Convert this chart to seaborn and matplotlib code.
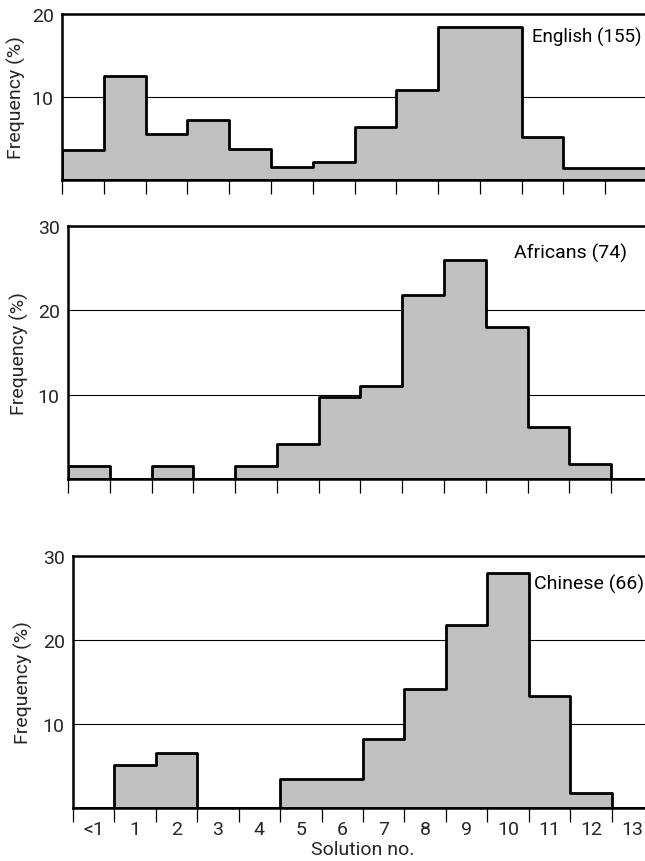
import numpy as np
import pandas as pd
import matplotlib
matplotlib.use("Agg")
import matplotlib.pyplot as plt
import seaborn as sns

# ---- data ----
categories = ["<1", "1", "2", "3", "4", "5", "6", "7", "8", "9", "10", "11", "12", "13"]
english = [3.6, 12.5, 5.6, 7.2, 3.7, 1.6, 2.2, 6.4, 10.8, 18.4, 18.4, 5.2, 1.5, 1.5]
africans = [1.5, 0, 1.6, 0, 1.5, 4.2, 9.7, 11.0, 21.8, 26.0, 18.0, 6.2, 1.8, 0]
chinese = [0, 5.1, 6.6, 0, 0, 3.4, 3.5, 8.2, 14.2, 21.8, 28.0, 13.3, 1.8, 0]

panel_labels = ["English (155)", "Africans (74)", "Chinese (66)"]
y_maxes = [20, 30, 30]
y_ticks = [[10, 20], [10, 20, 30], [10, 20, 30]]
x_title = "Solution no."
y_title = "Frequency (%)"

sns.set_theme(style="white")
plt.rcParams["font.family"] = ["Liberation Sans Narrow", "Roboto", "DejaVu Sans"]

W, H = 645, 862
fig = plt.figure(figsize=(W / 100, H / 100), dpi=100)
fig.patch.set_facecolor("white")

# axes placement in pixels: left, right, top (y max), bottom (y = 0)
boxes = [(62, 647, 15, 181), (68, 653, 227, 480), (73, 653, 557, 809)]
label_right_px = [641, 627, 644]
label_y = [17.3, 26.9, 26.7]
label_sizes = [13.5, 14, 14]
ylabel_x = [16, 19, 23]
series = [english, africans, chinese]

n = len(categories)
edges = np.arange(n + 1)
centers = np.arange(n) + 0.5
fill_color = "#c0c0c0"

for i, (vals, box) in enumerate(zip(series, boxes)):
    l, r, t, b = box
    ax = fig.add_axes([l / W, 1 - b / H, (r - l) / W, (b - t) / H])
    df = pd.DataFrame({"pos": centers, "freq": vals, "cat": categories})
    sns.histplot(data=df, x="pos", weights="freq", binwidth=1, binrange=(0, n),
                 element="step", fill=True, color=fill_color, edgecolor="black",
                 linewidth=2.0, alpha=1, ax=ax, zorder=2)
    ax.set_xlim(0, n)
    ax.set_ylim(0, y_maxes[i])
    ax.set_axisbelow(True)
    ax.yaxis.grid(True, color="black", linewidth=0.8)
    ax.xaxis.grid(False)
    ax.set_yticks(y_ticks[i])
    ax.set_yticklabels([str(v) for v in y_ticks[i]], fontsize=14)
    ax.tick_params(axis="y", length=0, pad=6)
    ax.set_xticks(edges[:-1])
    ax.tick_params(axis="x", which="major", direction="out", length=10, width=0.9,
                   color="black", labelbottom=False, bottom=True)
    for side in ["top", "left", "bottom"]:
        ax.spines[side].set_visible(True)
        ax.spines[side].set_color("black")
        ax.spines[side].set_linewidth(1.8)
    ax.spines["right"].set_visible(False)
    ax.set_ylabel(y_title, fontsize=14, va="center")
    ax.yaxis.set_label_coords((ylabel_x[i] - l) / (r - l), 0.5)
    x_data = (label_right_px[i] - l) / (r - l) * n
    ax.text(x_data, label_y[i], panel_labels[i], fontsize=label_sizes[i],
            ha="right", va="center", color="black")
    if i == 2:
        ax.set_xticks(centers, minor=True)
        ax.set_xticklabels(categories, minor=True, fontsize=14)
        ax.tick_params(axis="x", which="minor", length=0, pad=9, labelbottom=True)
        ax.set_xlabel(x_title, fontsize=14, labelpad=1)
    else:
        ax.set_xlabel("")

fig.savefig("out.png", dpi=100, facecolor="white")
